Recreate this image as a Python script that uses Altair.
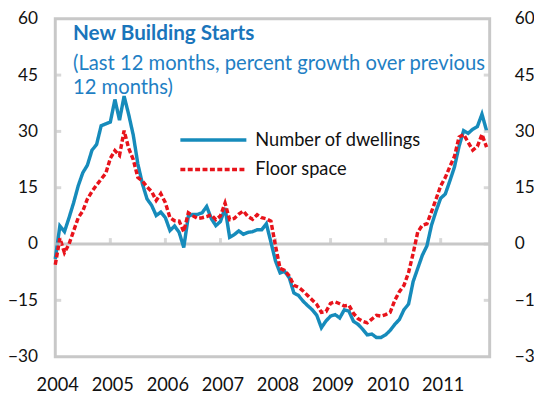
import altair as alt
import pandas as pd

# ---- data ----
years = [2004, 2005, 2006, 2007, 2008, 2009, 2010, 2011]
y_ticks = [-30, -15, 0, 15, 30, 45, 60]
series_names = ["Number of dwellings", "Floor space"]

# monthly, Jan 2004 .. Nov 2011
dwellings = [
    -4, 4.8, 3.3, 7, 11, 15.5, 19, 21, 25, 26.5, 31.5, 32,
    32.5, 38.5, 33, 39.4, 34.5, 29, 21.3, 16, 12, 10.3, 7.6, 8.5,
    7, 3.6, 4.8, 3.1, -0.9, 7.4, 7.9, 7.9, 8.3, 10, 6.8, 4.9,
    6, 9.6, 1.8, 2.5, 3.5, 2.6, 3.1, 3.3, 3.8, 3.8, 5.4, 0.5,
    -4.5, -7.7, -7.3, -9, -13, -13.7, -15.2, -16.4, -17.5, -19, -22.3, -20.5,
    -19.2, -18.8, -19.7, -17.5, -17.9, -20.6, -21.4, -22.7, -24.2, -24, -24.9, -24.9,
    -24.2, -23, -21.4, -20.1, -17.5, -16, -10, -6.5, -3, -0.5, 5, 8.8,
    12.2, 13.3, 16.8, 20.5, 26, 30.2, 29.5, 30.6, 31.3, 34.6, 30.2,
]
floor_space = [
    -5.5, 1.5, -2.3, 0, 3.5, 7, 8.8, 12, 14, 15.7, 17.3, 18.8,
    22.8, 24.9, 23.6, 30.2, 25.5, 22.5, 17.7, 16.8, 15.2, 14, 11.6, 13.4,
    11, 7, 6.2, 6.1, 3.3, 8.3, 7.5, 6.8, 7, 7.3, 7.8, 6.5,
    7.5, 10.9, 6.5, 6.8, 8, 8.8, 7.3, 6.6, 7.8, 7, 6.7, 6.1,
    -0.5, -6.5, -7, -8.5, -11, -11.5, -12.5, -13.7, -14.9, -16.1, -18.2, -18,
    -15.8, -15.4, -15.9, -16.5, -16.3, -18.5, -19.9, -20.6, -21, -20, -19, -19.2,
    -18.8, -18.2, -15, -12.7, -11, -7.6, -2.5, 3.2, 5, 5.4, 8.6, 12,
    15.5, 17.7, 20.6, 23.3, 28.5, 29.2, 27.1, 25, 26, 29.2, 25.8,
]

n = len(dwellings)
t = [2004 + i / 12 for i in range(n)]
df = pd.DataFrame({
    "t": t + t,
    "v": dwellings + floor_space,
    "series": [series_names[0]] * n + [series_names[1]] * n,
})

X_END = 2011.89
GRAY = "#c8c8c8"
BLUE = "#168bbb"
RED = "#e8131b"
FONT = "Lato"

x_scale = alt.Scale(domain=[2004, X_END], nice=False, zero=False)
y_scale = alt.Scale(domain=[-30, 60], nice=False, zero=False)

x_axis = alt.Axis(values=years, format="d", labelOverlap=False, labelFlush=False)
x_enc = alt.X("t:Q", scale=x_scale, title=None, axis=x_axis)
y_axis = alt.Axis(values=y_ticks)

legend = alt.Legend(
    title=None, orient="none", legendX=125, legendY=113,
    symbolType="stroke", symbolSize=4489, symbolStrokeWidth=3.5,
    labelFont=FONT, labelFontSize=18.5, labelColor="#111111", labelLimit=400,
    labelOffset=7, clipHeight=20, rowPadding=10, padding=0,
)

zero_line = alt.Chart(pd.DataFrame({"v": [0]})).mark_rule(
    color=GRAY, strokeWidth=3
).encode(y=alt.Y("v:Q", scale=y_scale, title=None, axis=y_axis))

year_ticks = alt.Chart(pd.DataFrame({"yr": years[1:]})).mark_tick(
    orient="vertical", size=6, thickness=3, yOffset=-3, color=GRAY
).encode(x=alt.X("yr:Q", scale=x_scale, title=None, axis=x_axis),
         y=alt.datum(0))

left_ticks = alt.Chart(pd.DataFrame({"v": y_ticks[1:-1]})).mark_tick(
    orient="horizontal", size=6, thickness=3, xOffset=3, color=GRAY
).encode(y=alt.Y("v:Q", scale=y_scale, title=None, axis=y_axis),
         x=alt.datum(2004))

lines = alt.Chart(df).mark_line(strokeWidth=3.5).encode(
    x=x_enc,
    y=alt.Y("v:Q", scale=y_scale, title=None, axis=y_axis),
    color=alt.Color("series:N",
                    scale=alt.Scale(domain=series_names, range=[BLUE, RED]),
                    legend=legend),
    strokeDash=alt.StrokeDash("series:N",
                              scale=alt.Scale(domain=series_names, range=[[1, 0], [5, 2.5]]),
                              legend=legend),
)

left = alt.layer(zero_line, year_ticks, lines, left_ticks)

right_ticks = alt.Chart(pd.DataFrame({"v": y_ticks[1:-1]})).mark_tick(
    orient="horizontal", size=6, thickness=3, xOffset=-3, color=GRAY
).encode(y=alt.Y("v:Q", scale=y_scale, title=None,
                 axis=alt.Axis(values=y_ticks, orient="right", labelPadding=25)),
         x=alt.datum(X_END))

chart = alt.layer(left, right_ticks).resolve_scale(y="independent").properties(
    width=441, height=343,
    autosize=alt.AutoSizeParams(type="none"),
    padding={"left": 48, "top": 8, "right": 45, "bottom": 37},
    title=alt.Title(
        "New Building Starts",
        subtitle=["(Last 12 months, percent growth over previous", "12 months)"],
        anchor="start", frame="group", orient="top", dx=18, offset=-90,
        font=FONT, fontSize=21, fontWeight="bold", color="#1a75bb",
        subtitleFont=FONT, subtitleFontSize=20.5, subtitleColor="#1f7fc4",
        subtitleLineHeight=24.5, subtitlePadding=10,
    ),
).configure_view(stroke=GRAY, strokeWidth=3).configure_axis(
    grid=False, ticks=False, domain=False,
    labelFont=FONT, labelFontSize=18.5, labelColor="#111111",
).configure_axisX(labelPadding=19, labelOffset=2).configure_axisY(
    labelPadding=18, labelFontSize=17.5
)

chart.save("out.html", embed_options={"renderer": "svg", "actions": False})
